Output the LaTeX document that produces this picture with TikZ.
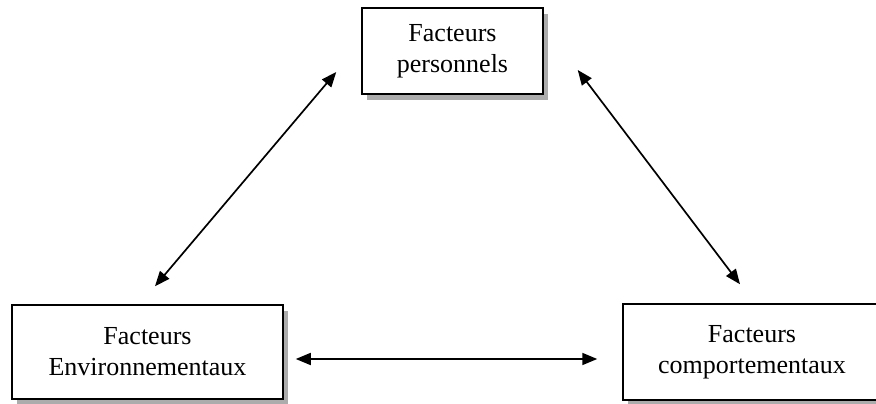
\documentclass[tikz,border=0pt]{standalone}
\usepackage{fontspec}
\setmainfont{Liberation Serif}
\usetikzlibrary{arrows.meta,positioning,shadows}

\begin{document}
\begin{tikzpicture}[
    x=1pt, y=1pt,
    font=\fontsize{26}{31}\selectfont,
    box/.style={rectangle, draw, line width=1.5pt, fill=white, align=center, inner sep=0pt,
        drop shadow={shadow xshift=5pt, shadow yshift=-6pt, fill=gray!65, opacity=1}},
    arrow/.style={{Triangle[length=15pt,width=12pt]}-{Triangle[length=15pt,width=12pt]}, line width=1.7pt}
]
    \useasboundingbox (0,0) rectangle (876,404);

    % Boxes
    \node[box, minimum width=181pt, minimum height=86pt] (pers) at (452.5,353) {Facteurs\\personnels};
    \node[box, minimum width=271pt, minimum height=94pt] (env) at (147.5,52) {Facteurs\\Environnementaux};
    \node[box, minimum width=258pt, minimum height=96pt] (comp) at (752,52) {Facteurs\\comportementaux};

    % Arrows
    \draw[arrow] ([xshift=-25pt,yshift=-21pt]pers.west) -- ([xshift=7.5pt,yshift=18pt]env.north);
    \draw[arrow] ([xshift=34pt,yshift=-19pt]pers.east) -- ([xshift=-12pt,yshift=19pt]comp.north);
    \draw[arrow] ([xshift=12pt,yshift=-7pt]env.east) -- ([xshift=-25pt,yshift=-7pt]comp.west);
\end{tikzpicture}
\end{document}
